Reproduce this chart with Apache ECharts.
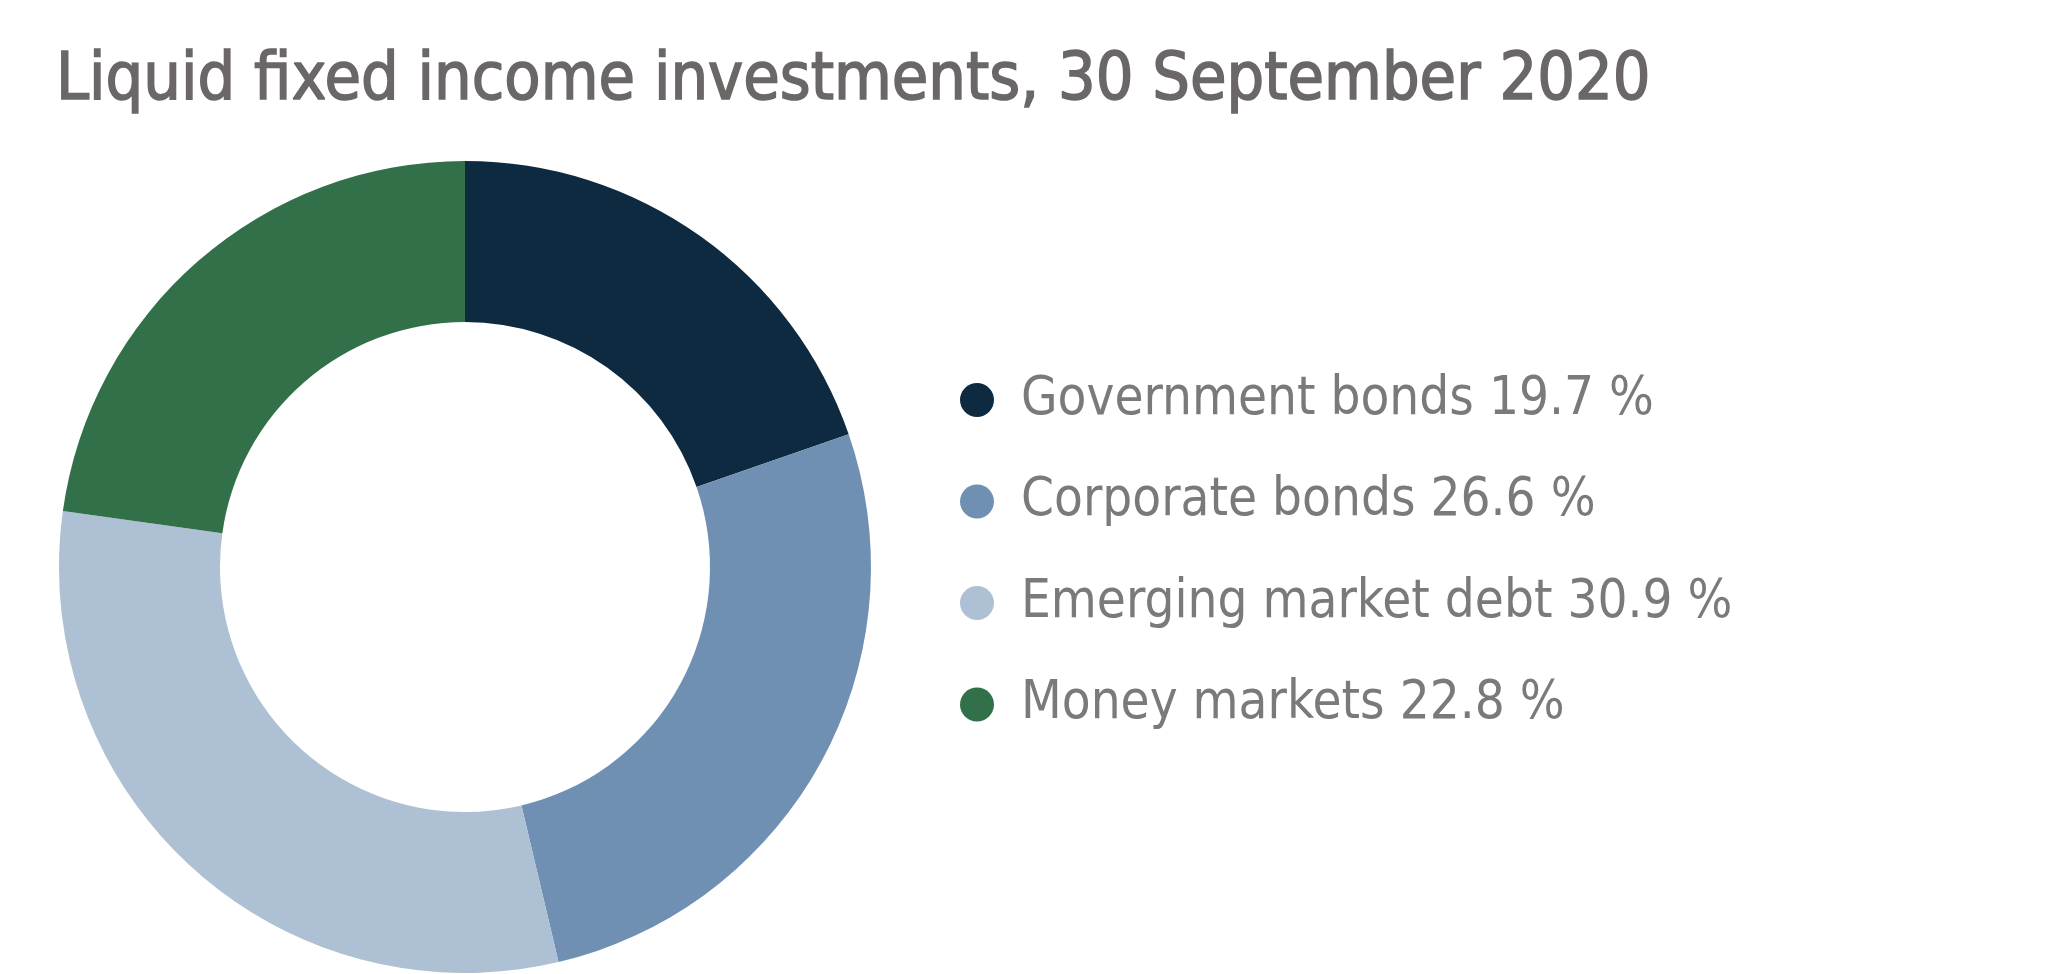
<!DOCTYPE html>
<html>
<head>
<meta charset="utf-8">
<script src="https://cdn.jsdelivr.net/npm/echarts@6/dist/echarts.min.js"></script>
<style>
html,body{margin:0;padding:0;background:#fff;}
#chart{width:2060px;height:974px;}
</style>
</head>
<body>
<div id="chart"></div>
<script>
const titleText = 'Liquid fixed income investments, 30 September 2020';
const categories = ['Government bonds', 'Corporate bonds', 'Emerging market debt', 'Money markets'];
const values = [19.7, 26.6, 30.9, 22.8];
const labels = ['19.7', '26.6', '30.9', '22.8'];
const colors = ['#0e2a40', '#7090b3', '#adc0d4', '#317048'];

const FONT = '"DejaVu Sans Condensed", "Liberation Sans Narrow", "Noto Sans", sans-serif';

const chart = echarts.init(document.getElementById('chart'), null, {renderer: 'canvas'});
const data = categories.map((c, i) => ({name: c, value: values[i], itemStyle: {color: colors[i]}}));

chart.setOption({
  backgroundColor: '#ffffff',
  animation: false,
  title: {
    text: titleText,
    left: 51,
    top: 44,
    textStyle: {fontFamily: FONT, fontSize: 66, fontWeight: 'normal', color: '#6b6767',
      textBorderColor: '#6b6767', textBorderWidth: 1.5}
  },
  legend: {
    orient: 'vertical',
    left: 955,
    top: 365,
    icon: 'circle',
    itemWidth: 34,
    itemHeight: 34,
    itemGap: 41.5,
    selectedMode: false,
    data: categories,
    formatter: function (name) {
      const i = categories.indexOf(name);
      return name + ' ' + labels[i] + ' %';
    },
    textStyle: {fontFamily: FONT, fontSize: 52.5, color: '#7a7a7a', lineHeight: 60, padding: [0, 0, 0, 22]}
  },
  series: [{
    type: 'pie',
    center: [465, 567],
    radius: [245, 406],
    startAngle: 90,
    clockwise: true,
    label: {show: false},
    labelLine: {show: false},
    silent: true,
    itemStyle: {borderWidth: 0},
    data: data
  }]
});
</script>
</body>
</html>
